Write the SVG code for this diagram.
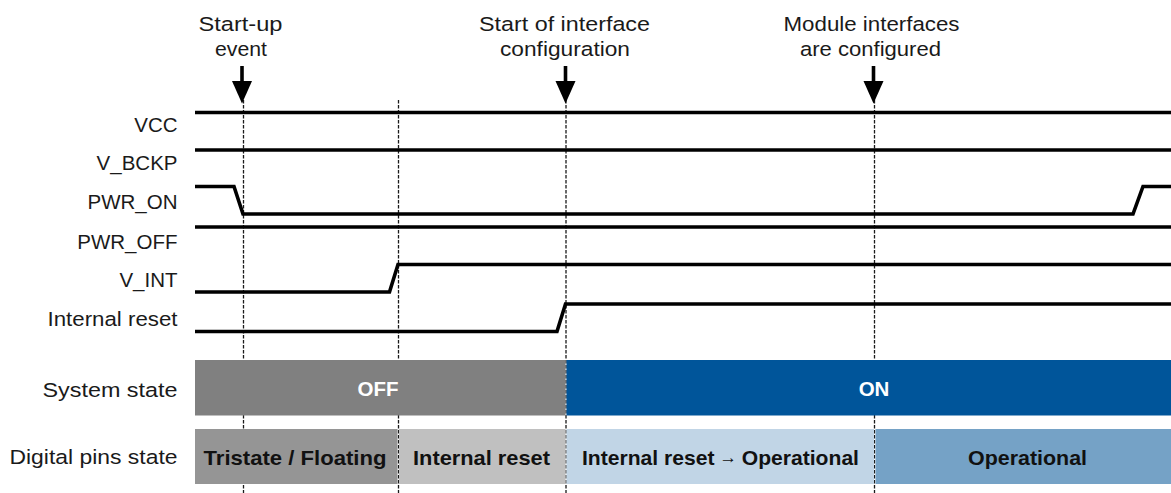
<svg xmlns="http://www.w3.org/2000/svg" width="1171" height="493" viewBox="0 0 1171 493">
<defs>
<style>
.lbl{font-family:"Liberation Sans",Arial,sans-serif;font-size:20.5px;fill:#1a1a1a;text-anchor:end}
.top{font-family:"Liberation Sans",Arial,sans-serif;font-size:20.5px;fill:#1a1a1a;text-anchor:middle}
.bar{font-family:"Liberation Sans",Arial,sans-serif;font-size:20.5px;font-weight:bold;text-anchor:middle}
.sig{fill:none;stroke:#000;stroke-width:3.6;stroke-linejoin:miter}
.dash{fill:none;stroke:#1a1a1a;stroke-width:1.3;stroke-dasharray:3.5 1.5}
.shaft{stroke:#000;stroke-width:3.6}
</style>
</defs>
<rect width="1171" height="493" fill="#fff"/>
<g id="connectors">
<line class="dash" x1="243.5" y1="100" x2="243.5" y2="493"/>
<line class="dash" x1="398.5" y1="100" x2="398.5" y2="493"/>
<line class="dash" x1="566" y1="100" x2="566" y2="493"/>
<line class="dash" x1="874.5" y1="100" x2="874.5" y2="493"/>
</g>
<g id="event-startup">
<text class="top" x="240.5" y="31" textLength="84" lengthAdjust="spacingAndGlyphs">Start-up</text>
<text class="top" x="241" y="56" textLength="52" lengthAdjust="spacingAndGlyphs">event</text>
<line class="shaft" x1="242" y1="66" x2="242" y2="82"/>
<polygon points="232,81 252,81 242,103.5"/>
</g>
<g id="event-config-start">
<text class="top" x="564.5" y="31" textLength="171" lengthAdjust="spacingAndGlyphs">Start of interface</text>
<text class="top" x="565" y="56" textLength="130" lengthAdjust="spacingAndGlyphs">configuration</text>
<line class="shaft" x1="565.5" y1="66" x2="565.5" y2="82"/>
<polygon points="555.5,81 575.5,81 565.5,103.5"/>
</g>
<g id="event-configured">
<text class="top" x="871.5" y="31" textLength="176" lengthAdjust="spacingAndGlyphs">Module interfaces</text>
<text class="top" x="870.5" y="56" textLength="141" lengthAdjust="spacingAndGlyphs">are configured</text>
<line class="shaft" x1="873.5" y1="66" x2="873.5" y2="82"/>
<polygon points="863.5,81 883.5,81 873.5,103.5"/>
</g>
<g id="sig-vcc">
<text class="lbl" x="177.5" y="132">VCC</text>
<polyline class="sig" points="195,112.5 1171,112.5"/>
</g>
<g id="sig-vbckp">
<text class="lbl" x="177.5" y="170">V_BCKP</text>
<polyline class="sig" points="195,150 1171,150"/>
</g>
<g id="sig-pwron">
<text class="lbl" x="177.5" y="209">PWR_ON</text>
<polyline class="sig" points="195,186.5 234,186.5 243,214 1133,214 1143,186.5 1171,186.5"/>
</g>
<g id="sig-pwroff">
<text class="lbl" x="177.5" y="248.5">PWR_OFF</text>
<polyline class="sig" points="195,227 1171,227"/>
</g>
<g id="sig-vint">
<text class="lbl" x="177.5" y="287">V_INT</text>
<polyline class="sig" points="195,292 389.5,292 398,264.5 1171,264.5"/>
</g>
<g id="sig-reset">
<text class="lbl" x="177.5" y="326" textLength="130" lengthAdjust="spacingAndGlyphs">Internal reset</text>
<polyline class="sig" points="195,331.5 557,331.5 565.5,304 1171,304"/>
</g>
<g id="system-state">
<text class="lbl" x="177.5" y="397" textLength="135" lengthAdjust="spacingAndGlyphs">System state</text>
<rect x="195" y="360" width="370.5" height="55.5" fill="#808080"/>
<rect x="566.5" y="360" width="604.5" height="55.5" fill="#00559A"/>
<text class="bar" x="378" y="396" fill="#fff">OFF</text>
<text class="bar" x="874" y="396" fill="#fff">ON</text>
</g>
<g id="digital-pins-state">
<text class="lbl" x="177.5" y="464" textLength="168" lengthAdjust="spacingAndGlyphs">Digital pins state</text>
<rect x="195" y="429" width="202.5" height="55" fill="#959595"/>
<rect x="399" y="429" width="166.5" height="55" fill="#C0C0C0"/>
<rect x="566.5" y="429" width="307.5" height="55" fill="#C1D5E6"/>
<rect x="875.5" y="429" width="295.5" height="55" fill="#75A2C6"/>
<text class="bar" x="295" y="464.5" fill="#111" textLength="183" lengthAdjust="spacingAndGlyphs">Tristate / Floating</text>
<text class="bar" x="481.5" y="464.5" fill="#111" textLength="137" lengthAdjust="spacingAndGlyphs">Internal reset</text>
<text class="bar" x="720.5" y="464.5" fill="#111" textLength="277" lengthAdjust="spacingAndGlyphs">Internal reset<tspan font-size="17" dy="-2"> → </tspan><tspan dy="2">Operational</tspan></text>
<text class="bar" x="1027.5" y="464.5" fill="#111" textLength="119" lengthAdjust="spacingAndGlyphs">Operational</text>
</g>
</svg>
